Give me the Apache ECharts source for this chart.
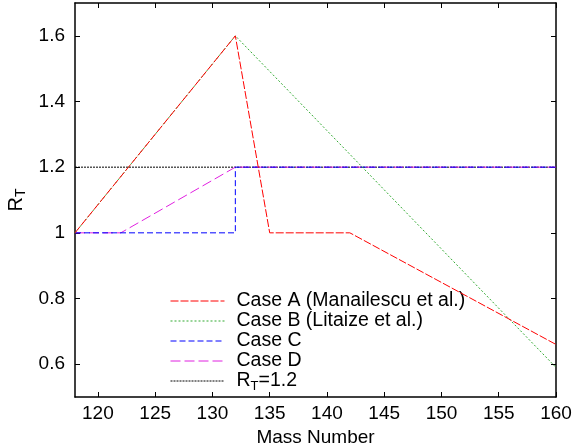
<!DOCTYPE html>
<html>
<head>
<meta charset="utf-8">
<script src="https://cdn.jsdelivr.net/npm/echarts@6/dist/echarts.min.js"></script>
<style>
  html, body { margin: 0; padding: 0; background: #fff; }
  #main { width: 577px; height: 446px; }
</style>
</head>
<body>
<div id="main"></div>
<script>
// mass number break points and R_T values for each case
var caseA = [[118, 1.0], [132, 1.6], [135, 1.0], [142, 1.0], [160, 0.66]];
var caseB = [[118, 1.0], [132, 1.6], [160, 0.59]];
var caseC = [[118, 1.0], [132, 1.0], [132, 1.2], [160, 1.2]];
var caseD = [[118, 1.0], [122, 1.0], [132, 1.2], [160, 1.2]];
var refLine = [[118, 1.2], [160, 1.2]];
var xTicks = [120, 125, 130, 135, 140, 145, 150, 155, 160];
var yTicks = [0.6, 0.8, 1.0, 1.2, 1.4, 1.6];

var font = 'Liberation Sans, Arial, sans-serif';
var chart = echarts.init(document.getElementById('main'));

function mkSeries(name, data, color, dash, z) {
    return {
        name: name,
        type: 'line',
        data: data,
        symbol: 'none',
        z: z,
        lineStyle: { color: color, width: 1, type: dash },
        itemStyle: { color: color },
        animation: false
    };
}

var frameAxis = { lineStyle: { color: '#000', width: 1.5 } };

chart.setOption({
    animation: false,
    grid: { left: 75, right: 21, top: 3, bottom: 49, outerBoundsMode: 'none' },
    xAxis: [{
        type: 'value', min: 118, max: 160,
        name: 'Mass Number', nameLocation: 'middle', nameGap: 23,
        nameTextStyle: { color: '#000', fontSize: 19, fontFamily: font },
        axisLine: frameAxis,
        axisTick: { inside: true, length: 5, customValues: xTicks, lineStyle: { color: '#000' } },
        axisLabel: { customValues: xTicks, color: '#000', fontSize: 19, fontFamily: font, margin: 7 },
        splitLine: { show: false }
    }, {
        type: 'value', min: 118, max: 160, position: 'top',
        axisLine: frameAxis,
        axisTick: { inside: true, length: 5, customValues: xTicks, lineStyle: { color: '#000' } },
        axisLabel: { show: false },
        splitLine: { show: false }
    }],
    yAxis: [{
        type: 'value', min: 0.5, max: 1.7,
        name: '{a|R}{b|T}', nameLocation: 'middle', nameGap: 44, nameRotate: 90,
        nameTextStyle: {
            color: '#000', fontFamily: font,
            rich: {
                a: { fontSize: 20, color: '#000', fontFamily: font },
                b: { fontSize: 14, color: '#000', fontFamily: font, padding: [9, 0, 0, 0] }
            }
        },
        axisLine: frameAxis,
        axisTick: { inside: true, length: 5, customValues: yTicks, lineStyle: { color: '#000' } },
        axisLabel: { customValues: yTicks, color: '#000', fontSize: 19, fontFamily: font, margin: 10 },
        splitLine: { show: false }
    }, {
        type: 'value', min: 0.5, max: 1.7, position: 'right',
        axisLine: frameAxis,
        axisTick: { inside: true, length: 5, customValues: yTicks, lineStyle: { color: '#000' } },
        axisLabel: { show: false },
        splitLine: { show: false }
    }],
    legend: {
        orient: 'vertical',
        left: 165, top: 286,
        itemWidth: 54, itemHeight: 10, itemGap: 0,
        itemStyle: { opacity: 0 },
        lineStyle: { width: 1 },
        textStyle: {
            color: '#000', fontSize: 19.5, fontFamily: font, lineHeight: 19.3,
            padding: [0, 0, 0, 7],
            rich: {
                a: { fontSize: 19.5, color: '#000', fontFamily: font },
                b: { fontSize: 13, color: '#000', fontFamily: font, padding: [10, 0, 0, 0] }
            }
        },
        formatter: function (name) {
            if (name === 'RT') return '{a|R}{b|T}{a|=1.2}';
            return name;
        },
        data: ['Case A (Manailescu et al.)', 'Case B (Litaize et al.)', 'Case C', 'Case D', 'RT']
    },
    series: [
        mkSeries('RT', refLine, '#000', [2, 1], 1),
        mkSeries('Case D', caseD, '#e020e0', [10, 4], 2),
        mkSeries('Case C', caseC, '#0000ff', [6, 3], 3),
        mkSeries('Case B (Litaize et al.)', caseB, '#33aa33', [2, 2], 4),
        mkSeries('Case A (Manailescu et al.)', caseA, '#ff0000', [8, 2], 5)
    ]
});
</script>
</body>
</html>
